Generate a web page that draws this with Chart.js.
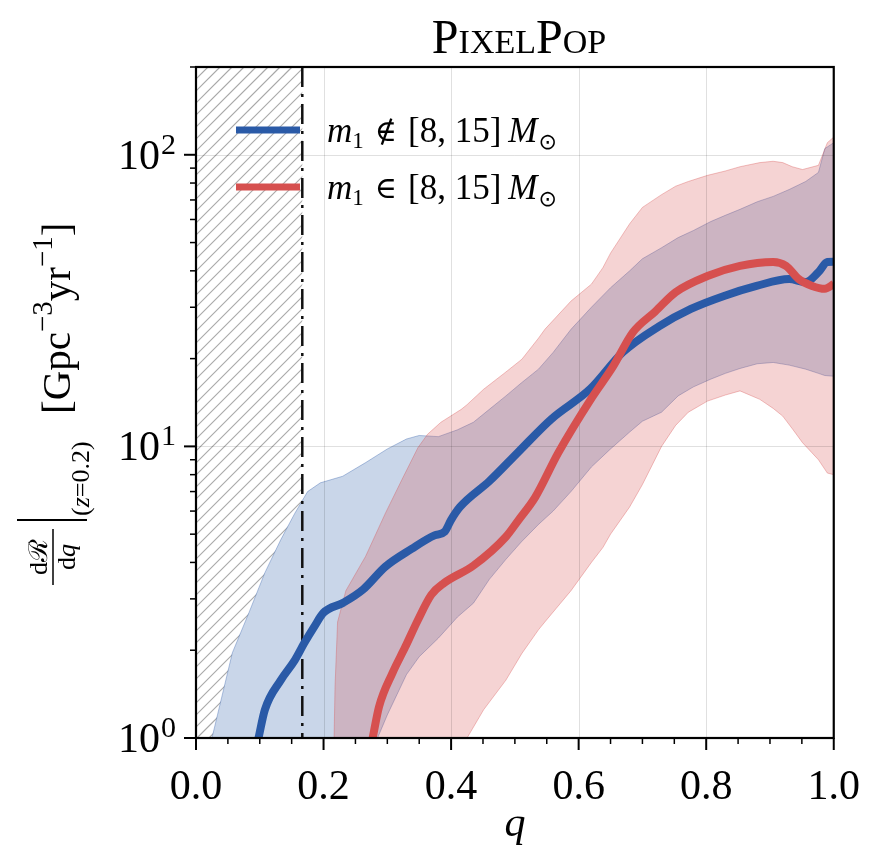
<!DOCTYPE html>
<html><head><meta charset="utf-8">
<script src="https://cdn.jsdelivr.net/npm/chart.js@4"></script>
<style>html,body{margin:0;padding:0;background:#fff}canvas{display:block}</style>
</head><body>
<canvas id="c" width="877" height="862"></canvas>
<script>
const titleText = 'PixelPop';
const xLabel = 'q';
const xTickValues = [0, 0.2, 0.4, 0.6, 0.8, 1.0];
const yDecades = [1, 10, 100];
const yMin = 1, yMax = 200;
const qCut = 1 / 6;
const legendSymbols = ['∉', '∈'];
const legendInterval = '[8, 15]';

const blueBandQ = [0.020, 0.025, 0.041, 0.057, 0.083, 0.108, 0.133, 0.155, 0.175, 0.195, 0.230, 0.266, 0.300, 0.330, 0.350, 0.380, 0.410, 0.435, 0.460, 0.486, 0.510, 0.537, 0.560, 0.588, 0.620, 0.650, 0.680, 0.700, 0.730, 0.756, 0.780, 0.807, 0.830, 0.853, 0.880, 0.905, 0.930, 0.956, 0.976, 0.986, 1.000];
const blueHigh = [0.5, 1.0, 1.4, 1.96, 2.69, 3.69, 4.79, 5.9, 7.0, 7.5, 7.9, 8.8, 9.8, 10.6, 10.9, 10.8, 11.4, 12.1, 13.4, 14.9, 16.5, 18.4, 21.0, 25.2, 30.0, 35.0, 40.0, 44.0, 48.0, 52.0, 55.0, 59.0, 62.0, 65.0, 69.0, 72.0, 76.0, 81.0, 87.0, 105.0, 110.0];
const blueLow = [0.5, 0.5, 0.5, 0.5, 0.5, 0.5, 0.5, 0.5, 0.5, 0.5, 0.5, 0.8, 1.2, 1.65, 1.9, 2.2, 2.6, 2.9, 3.5, 4.1, 4.7, 5.4, 6.0, 7.0, 8.5, 9.8, 11.2, 12.2, 13.1, 14.9, 16.0, 17.0, 17.8, 18.5, 19.2, 19.4, 19.0, 18.4, 17.8, 17.5, 17.4];

const redBandQ = [0.214, 0.218, 0.222, 0.235, 0.266, 0.297, 0.323, 0.348, 0.363, 0.384, 0.416, 0.425, 0.451, 0.486, 0.511, 0.537, 0.547, 0.588, 0.620, 0.638, 0.650, 0.680, 0.700, 0.730, 0.752, 0.772, 0.802, 0.830, 0.853, 0.884, 0.905, 0.920, 0.935, 0.951, 0.976, 0.990, 1.000];
const redHigh = [0.5, 1.5, 2.5, 3.2, 4.2, 5.9, 7.7, 9.9, 11.0, 12.1, 13.4, 13.9, 15.7, 18.0, 19.9, 23.5, 25.2, 31.5, 36.0, 41.0, 46.0, 58.0, 66.0, 73.0, 78.0, 81.0, 85.0, 88.0, 91.0, 94.0, 95.0, 94.0, 91.0, 89.0, 92.0, 110.0, 115.0];
const redLow = [0.5, 0.5, 0.5, 0.5, 0.5, 0.5, 0.5, 0.5, 0.5, 0.5, 0.5, 1.0, 1.25, 1.58, 1.95, 2.35, 2.5, 3.2, 4.0, 4.5, 5.0, 6.2, 7.4, 10.0, 11.8, 13.1, 14.3, 15.0, 15.5, 14.5, 13.5, 12.7, 11.5, 10.3, 9.0, 8.1, 8.0];

const blueMedQ = [0.098, 0.108, 0.133, 0.155, 0.170, 0.185, 0.200, 0.231, 0.262, 0.297, 0.338, 0.374, 0.390, 0.400, 0.414, 0.460, 0.506, 0.557, 0.619, 0.669, 0.726, 0.776, 0.828, 0.879, 0.930, 0.956, 0.976, 0.990, 1.000];
const blueMed = [1.0, 1.25, 1.58, 1.85, 2.12, 2.4, 2.69, 2.91, 3.23, 3.87, 4.45, 4.95, 5.1, 5.6, 6.2, 7.6, 9.6, 12.4, 15.8, 21.0, 25.8, 29.6, 32.8, 35.5, 37.5, 36.6, 39.6, 42.9, 43.0];

const redMedQ = [0.277, 0.287, 0.308, 0.328, 0.348, 0.369, 0.389, 0.435, 0.486, 0.506, 0.532, 0.568, 0.619, 0.654, 0.685, 0.720, 0.752, 0.802, 0.853, 0.905, 0.925, 0.945, 0.966, 0.986, 1.000];
const redMed = [1.0, 1.28, 1.67, 2.05, 2.54, 3.1, 3.4, 3.9, 4.9, 5.6, 6.7, 9.5, 14.5, 18.8, 24.6, 29.0, 33.8, 38.4, 41.6, 42.9, 41.6, 37.5, 35.5, 34.7, 36.0];

const BLUE = '#2a5aa7';
const RED = '#d6504f';
const SERIF = "'Liberation Serif', 'Times New Roman', serif";

const pts = (qs, vs) => qs.map((q, i) => ({x: q, y: vs[i]}));

function rotText(ctx, text, bx, sy, font) {
  ctx.save();
  ctx.font = font;
  ctx.translate(bx, sy);
  ctx.rotate(-Math.PI / 2);
  ctx.textAlign = 'left';
  ctx.textBaseline = 'alphabetic';
  ctx.fillText(text, 0, 0);
  const w = ctx.measureText(text).width;
  ctx.restore();
  return w;
}

function piece(ctx, text, font, x, y) {
  ctx.font = font;
  ctx.fillText(text, x, y);
  return x + ctx.measureText(text).width;
}

const decor = {
  id: 'decor',
  beforeDatasetsDraw(chart) {
    const {ctx, chartArea: a, scales: {x}} = chart;
    const x0 = x.getPixelForValue(0), x1 = x.getPixelForValue(qCut);
    ctx.save();
    ctx.beginPath(); ctx.rect(x0, a.top, x1 - x0, a.bottom - a.top); ctx.clip();
    ctx.strokeStyle = '#a8a8a8'; ctx.lineWidth = 1.2;
    const h = a.bottom - a.top;
    for (let s = x0 - h; s < x1 + 20; s += 12) {
      ctx.beginPath(); ctx.moveTo(s, a.bottom); ctx.lineTo(s + h, a.top); ctx.stroke();
    }
    ctx.restore();
  },
  beforeDatasetDraw(chart, args) {
    if (args.index !== 4) return;
    const {ctx, chartArea: a, scales: {x, y}} = chart;
    ctx.save();
    ctx.strokeStyle = 'rgba(0,0,0,0.12)'; ctx.lineWidth = 1;
    xTickValues.forEach(v => {
      if (v <= 0 || v >= 1) return;
      const px = Math.round(x.getPixelForValue(v)) + 0.5;
      ctx.beginPath(); ctx.moveTo(px, a.top); ctx.lineTo(px, a.bottom); ctx.stroke();
    });
    yDecades.forEach(v => {
      if (v <= yMin || v >= yMax) return;
      const py = Math.round(y.getPixelForValue(v)) + 0.5;
      ctx.beginPath(); ctx.moveTo(a.left, py); ctx.lineTo(a.right, py); ctx.stroke();
    });
    const cx = x.getPixelForValue(qCut);
    ctx.strokeStyle = '#111'; ctx.lineWidth = 2.5;
    ctx.setLineDash([20, 7, 3, 7]);
    ctx.beginPath(); ctx.moveTo(cx, a.top); ctx.lineTo(cx, a.bottom); ctx.stroke();
    ctx.restore();
  },
  afterDraw(chart) {
    const {ctx, chartArea: a, scales: {x, y}} = chart;
    ctx.save();
    ctx.strokeStyle = '#000'; ctx.lineWidth = 2.2;
    ctx.strokeRect(a.left, a.top, a.right - a.left, a.bottom - a.top);
    for (let i = 0; i <= 20; i++) {
      const v = i / 20;
      const major = i % 4 === 0;
      const px = x.getPixelForValue(v);
      ctx.lineWidth = major ? 2 : 1.5;
      ctx.beginPath(); ctx.moveTo(px, a.bottom); ctx.lineTo(px, a.bottom + (major ? 12 : 6)); ctx.stroke();
    }
    for (let e = 0; e <= 2; e++) {
      for (let m = 1; m <= 9; m++) {
        const v = m * Math.pow(10, e);
        if (v > yMax) continue;
        const py = y.getPixelForValue(v);
        const major = m === 1;
        ctx.lineWidth = major ? 2 : 1.5;
        ctx.beginPath(); ctx.moveTo(a.left, py); ctx.lineTo(a.left - (major ? 12 : 6), py); ctx.stroke();
      }
    }
    ctx.fillStyle = '#000';
    yDecades.forEach(v => {
      const py = y.getPixelForValue(v);
      const e = Math.round(Math.log10(v));
      ctx.textBaseline = 'alphabetic';
      ctx.textAlign = 'right';
      ctx.font = `30px ${SERIF}`;
      ctx.fillText(String(e), 176, py - 1);
      const ew = ctx.measureText(String(e)).width;
      ctx.font = `42px ${SERIF}`;
      ctx.fillText('10', 176 - ew - 1, py + 14);
    });
    ctx.textAlign = 'center';
    ctx.textBaseline = 'alphabetic';
    ctx.font = `48px ${SERIF}`;
    if ('fontVariantCaps' in ctx) {
      ctx.fontVariantCaps = 'small-caps';
      ctx.fillText(titleText, 519, 53);
      ctx.fontVariantCaps = 'normal';
    } else {
      ctx.fillText(titleText.toUpperCase(), 519, 53);
    }
    ctx.font = `italic 42px ${SERIF}`;
    ctx.fillText(xLabel, (a.left + a.right) / 2, 836);
    // y label
    ctx.textAlign = 'left';
    ctx.font = `26px ${SERIF}`;
    const nw = ctx.measureText('dℛ').width;
    rotText(ctx, 'dℛ', 47, 557 + nw / 2, `26px ${SERIF}`);
    ctx.font = `26px ${SERIF}`;
    const dw = ctx.measureText('dq').width;
    let s = 557 + dw / 2;
    s -= rotText(ctx, 'd', 75, s, `26px ${SERIF}`);
    rotText(ctx, 'q', 75, s, `italic 26px ${SERIF}`);
    ctx.lineWidth = 1.5;
    ctx.beginPath(); ctx.moveTo(53, 585); ctx.lineTo(53, 529); ctx.stroke();
    ctx.lineWidth = 2;
    ctx.beginPath(); ctx.moveTo(17, 520); ctx.lineTo(87, 520); ctx.stroke();
    s = 516;
    s -= rotText(ctx, '(', 89, s, `26px ${SERIF}`);
    s -= rotText(ctx, 'z', 89, s, `italic 26px ${SERIF}`);
    s -= rotText(ctx, '=0.2)', 89, s, `26px ${SERIF}`);
    s = 414;
    s -= rotText(ctx, '[Gpc', 70, s, `41px ${SERIF}`);
    s -= rotText(ctx, '−3', 52, s, `29px ${SERIF}`);
    s -= rotText(ctx, 'yr', 70, s, `41px ${SERIF}`);
    s -= rotText(ctx, '−1', 52, s, `29px ${SERIF}`);
    rotText(ctx, ']', 70, s, `41px ${SERIF}`);
    // legend
    const entries = [{y: 130, c: BLUE, sym: legendSymbols[0]}, {y: 187, c: RED, sym: legendSymbols[1]}];
    entries.forEach(en => {
      ctx.strokeStyle = en.c; ctx.lineWidth = 7; ctx.lineCap = 'butt';
      ctx.beginPath(); ctx.moveTo(236, en.y); ctx.lineTo(300, en.y); ctx.stroke();
      ctx.fillStyle = '#000';
      ctx.textAlign = 'left'; ctx.textBaseline = 'alphabetic';
      const b = en.y + 12;
      let px = 327;
      px = piece(ctx, 'm', `italic 35px ${SERIF}`, px, b);
      px = piece(ctx, '1', `23px ${SERIF}`, px, b + 6);
      px += 11;
      px = piece(ctx, en.sym, `30px 'DejaVu Serif', 'DejaVu Sans', serif`, px, b - 1);
      px += 11;
      px = piece(ctx, legendInterval, `35px ${SERIF}`, px, b);
      px += 7;
      px = piece(ctx, 'M', `italic 35px ${SERIF}`, px, b);
      piece(ctx, '⊙', `22px 'DejaVu Sans', serif`, px + 1, b + 7);
    });
    ctx.restore();
  }
};

new Chart(document.getElementById('c'), {
  type: 'line',
  data: {
    datasets: [
      {data: pts(blueBandQ, blueLow), borderColor: 'rgba(42,90,167,0.35)', borderWidth: 1, pointRadius: 0, fill: false, order: 20, tension: 0},
      {data: pts(blueBandQ, blueHigh), borderColor: 'rgba(42,90,167,0.35)', borderWidth: 1, pointRadius: 0, fill: 0, backgroundColor: 'rgb(201,214,233)', order: 20, tension: 0},
      {data: pts(redBandQ, redLow), borderColor: 'rgba(214,80,79,0.35)', borderWidth: 1, pointRadius: 0, fill: false, order: 10, tension: 0},
      {data: pts(redBandQ, redHigh), borderColor: 'rgba(214,80,79,0.35)', borderWidth: 1, pointRadius: 0, fill: 2, backgroundColor: 'rgba(214,80,79,0.25)', order: 10, tension: 0},
      {data: pts(blueMedQ, blueMed), borderColor: BLUE, borderWidth: 8, pointRadius: 0, fill: false, order: 2, cubicInterpolationMode: 'monotone', clip: 0},
      {data: pts(redMedQ, redMed), borderColor: RED, borderWidth: 8, pointRadius: 0, fill: false, order: 1, cubicInterpolationMode: 'monotone', clip: 0}
    ]
  },
  options: {
    responsive: false,
    animation: false,
    devicePixelRatio: 1,
    layout: {padding: {left: 0, right: 28, top: 67, bottom: 0}},
    plugins: {legend: {display: false}, tooltip: {enabled: false}, title: {display: false}},
    scales: {
      x: {
        type: 'linear', min: 0, max: 1,
        grid: {display: false}, border: {display: false},
        ticks: {stepSize: 0.2, autoSkip: false, maxRotation: 0, color: '#000', padding: 17,
          font: {family: SERIF, size: 42}, callback: v => v.toFixed(1)},
        afterFit: s => { s.height = 124; }
      },
      y: {
        type: 'logarithmic', min: yMin, max: yMax,
        grid: {display: false}, border: {display: false},
        ticks: {display: false},
        afterFit: s => { s.width = 196; }
      }
    }
  },
  plugins: [decor]
});
</script>
</body></html>
